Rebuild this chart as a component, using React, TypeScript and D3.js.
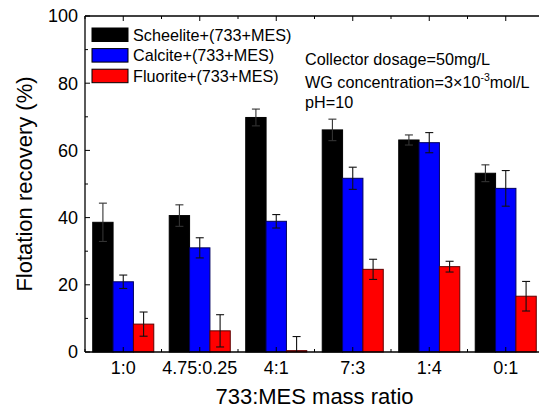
import React from "react";
import * as d3 from "d3";

// mass ratio groups on the x axis
const ratios = ["1:0", "4.75:0.25", "4:1", "7:3", "1:4", "0:1"];
const seriesNames = ["Scheelite+(733+MES)", "Calcite+(733+MES)", "Fluorite+(733+MES)"];
const seriesColors = ["#000000", "#0000ff", "#ff0000"];
const seriesStroke = ["#000000", "#000060", "#600000"];

// flotation recovery (%) and error
const scheelite = [38.6, 40.6, 69.8, 66.1, 63.1, 53.2];
const scheeliteErr = [5.7, 3.2, 2.5, 3.2, 1.5, 2.5];
const calcite = [20.9, 31.0, 38.9, 51.7, 62.3, 48.7];
const calciteErr = [2.0, 3.0, 2.0, 3.3, 3.0, 5.3];
const fluorite = [8.3, 6.3, 0.4, 24.6, 25.4, 16.6];
const fluoriteErr = [3.6, 4.8, 4.2, 3.0, 1.6, 4.4];

const yTicks = [0, 20, 40, 60, 80, 100];
const yMinor = [10, 30, 50, 70, 90];

const values = [scheelite, calcite, fluorite];
const errors = [scheeliteErr, calciteErr, fluoriteErr];

const W = 539;
const H = 408;
const margin = { left: 85, top: 16, right: 544, bottom: 352 };
const font = "'Liberation Sans', Arial, sans-serif";

export default function App() {
    const x = d3.scaleBand().domain(ratios).range([margin.left, margin.right]).padding(0);
    const xs = d3.scaleBand().domain(seriesNames).range([0, x.bandwidth()]).paddingInner(0).paddingOuter(0.38);
    const y = d3.scaleLinear().domain([0, 100]).range([margin.bottom, margin.top]);
    const bounds = d3.range(ratios.length + 1).map(i => margin.left + i * x.step());

    return (
        <svg width={W} height={H} style={{ position: "absolute", left: 0, top: 0, background: "#fff" }}
            fontFamily={font}>
            {/* bars */}
            {seriesNames.map((s, si) => (
                <g key={s}>
                    {ratios.map((r, i) => (
                        <rect key={r}
                            x={x(r)! + xs(s)!}
                            y={y(values[si][i])}
                            width={xs.bandwidth()}
                            height={y(0) - y(values[si][i])}
                            fill={seriesColors[si]}
                            stroke={seriesStroke[si]}
                            strokeWidth={1} />
                    ))}
                </g>
            ))}
            {/* error bars */}
            {seriesNames.map((s, si) => (
                <g key={s + "e"} stroke={si === 0 ? "#333" : "#111"} strokeWidth={1.1}>
                    {ratios.map((r, i) => {
                        const cx = x(r)! + xs(s)! + xs.bandwidth() / 2;
                        const v = values[si][i];
                        const e = errors[si][i];
                        const lo = Math.max(0, v - e);
                        return (
                            <g key={r}>
                                <line x1={cx} x2={cx} y1={y(v + e)} y2={y(lo)} />
                                <line x1={cx - 4} x2={cx + 4} y1={y(v + e)} y2={y(v + e)} />
                                {v - e > 0 && <line x1={cx - 4} x2={cx + 4} y1={y(lo)} y2={y(lo)} />}
                            </g>
                        );
                    })}
                </g>
            ))}
            {/* frame */}
            <g stroke="#000" strokeWidth={1.3} fill="none">
                <line x1={margin.left} x2={margin.left} y1={margin.top} y2={margin.bottom} />
                <line x1={margin.left} x2={margin.right} y1={margin.top} y2={margin.top} />
                <line x1={margin.left} x2={margin.right} y1={margin.bottom} y2={margin.bottom} />
                <line x1={margin.right} x2={margin.right} y1={margin.top} y2={margin.bottom} />
            </g>
            {/* ticks */}
            <g stroke="#000" strokeWidth={1}>
                {yTicks.map(t => (
                    <line key={t} x1={margin.left} x2={margin.left + 5} y1={y(t)} y2={y(t)} />
                ))}
                {yMinor.map(t => (
                    <line key={t} x1={margin.left} x2={margin.left + 3} y1={y(t)} y2={y(t)} />
                ))}
                {ratios.map(r => {
                    const cx = x(r)! + x.bandwidth() / 2;
                    return (
                        <g key={r}>
                            <line x1={cx} x2={cx} y1={margin.bottom} y2={margin.bottom - 5} />
                            <line x1={cx} x2={cx} y1={margin.top} y2={margin.top + 5} />
                        </g>
                    );
                })}
                {bounds.map(b => (
                    <g key={b}>
                        <line x1={b} x2={b} y1={margin.bottom} y2={margin.bottom - 3} />
                        <line x1={b} x2={b} y1={margin.top} y2={margin.top + 3} />
                    </g>
                ))}
            </g>
            {/* tick labels */}
            <g fontSize={18} fill="#000">
                {yTicks.map(t => (
                    <text key={t} x={margin.left - 7} y={y(t)} dy="0.36em" textAnchor="end">{t}</text>
                ))}
                {ratios.map(r => (
                    <text key={r} x={x(r)! + x.bandwidth() / 2} y={374} textAnchor="middle">{r}</text>
                ))}
            </g>
            {/* axis titles */}
            <text x={(margin.left + margin.right) / 2} y={404} fontSize={22} textAnchor="middle">733:MES mass ratio</text>
            <text transform={`translate(32,${(margin.top + margin.bottom) / 2}) rotate(-90)`} fontSize={22}
                textAnchor="middle">Flotation recovery (%)</text>
            {/* legend */}
            {seriesNames.map((s, si) => (
                <g key={s + "l"} transform={`translate(92,${28 + si * 20.6})`}>
                    <rect width={36} height={13.5} fill={seriesColors[si]} stroke="#000" strokeWidth={1} />
                    <text x={41} y={12.5} fontSize={16.2}>{s}</text>
                </g>
            ))}
            {/* conditions */}
            <g fontSize={16.2}>
                <text x={305} y={65}>Collector dosage=50mg/L</text>
                <text x={305} y={88}>WG concentration=3×10<tspan fontSize={10.5} dy={-7}>-3</tspan><tspan dy={7}>mol/L</tspan></text>
                <text x={305} y={108}>pH=10</text>
            </g>
        </svg>
    );
}
